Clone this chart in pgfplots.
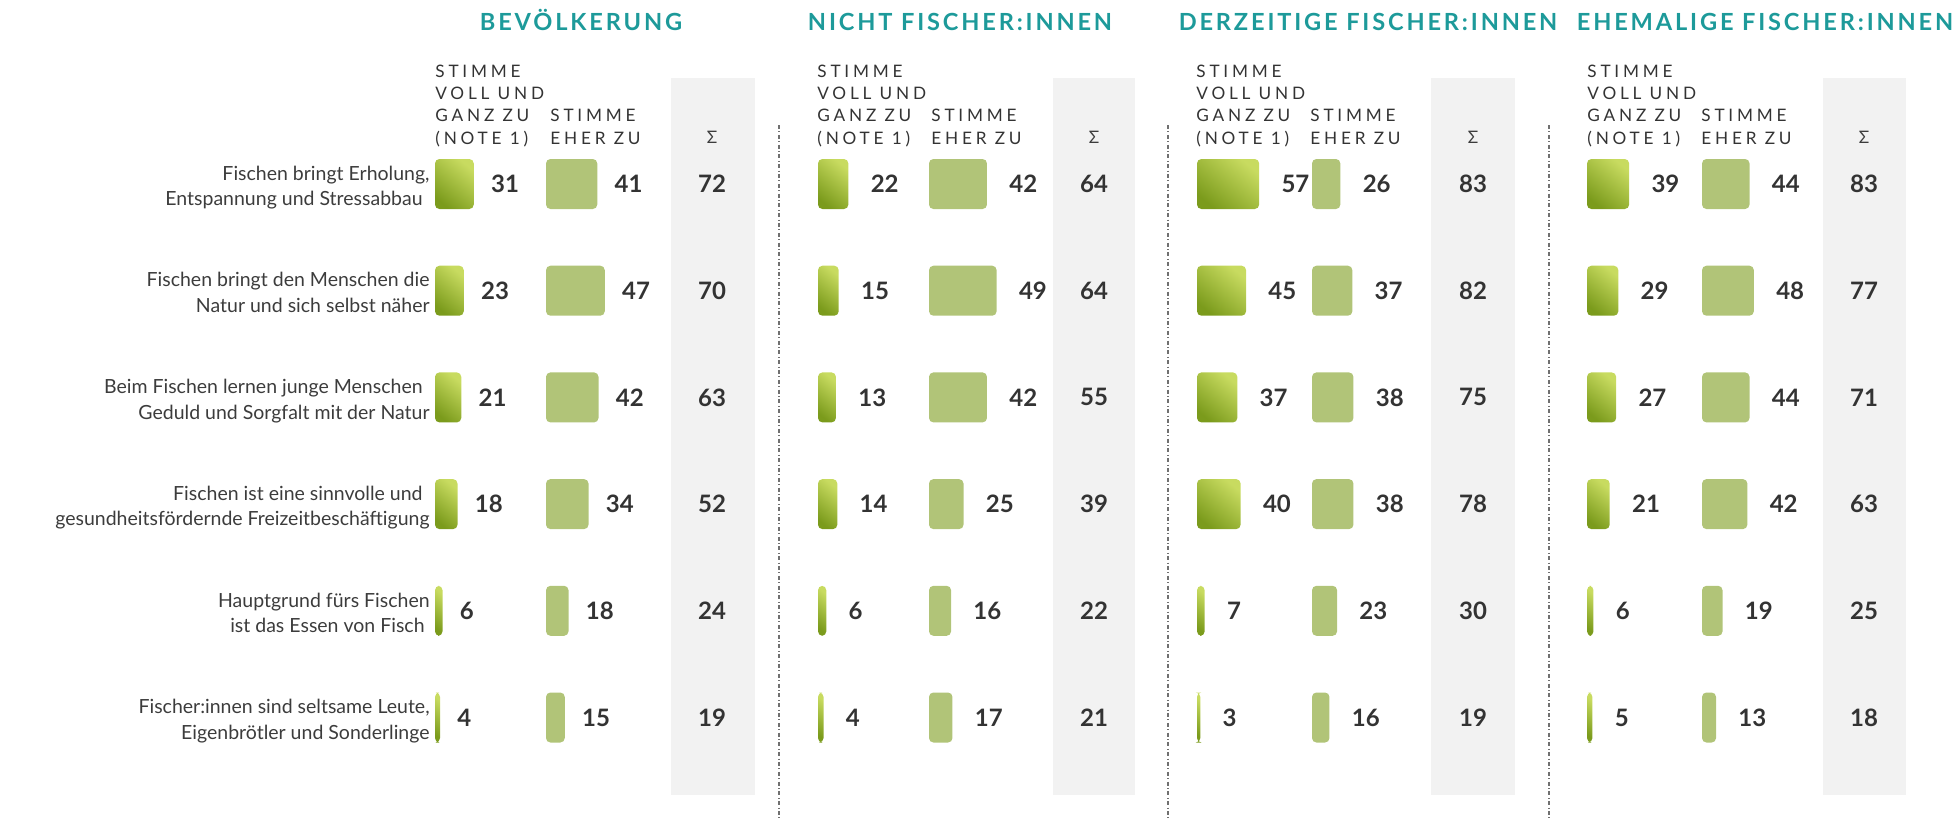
\documentclass[border=0pt]{standalone}
\usepackage{fontspec}
\setmainfont{Lato}
\newfontfamily\spaced[LetterSpace=22]{Lato}
\newfontfamily\ttl[LetterSpace=12]{Lato}
\usepackage{pgfplots}
\usepackage{pgfplotstable}
\pgfplotsset{compat=1.18}
\definecolor{gdark}{HTML}{7B9B1C}
\definecolor{glight}{HTML}{C8DB60}
\definecolor{eher}{HTML}{B1C478}
\definecolor{tealc}{HTML}{1D9A9A}
\definecolor{txt}{HTML}{333333}
\definecolor{lbl}{HTML}{3C3C3C}
\definecolor{sumbg}{HTML}{F2F2F2}
\definecolor{dashc}{HTML}{707070}

\pgfplotstableread{
row voll eher sum
1 31 41 72
2 23 47 70
3 21 42 63
4 18 34 52
5 6 18 24
6 4 15 19
}\tabA
\pgfplotstableread{
row voll eher sum
1 22 42 64
2 15 49 64
3 13 42 55
4 14 25 39
5 6 16 22
6 4 17 21
}\tabB
\pgfplotstableread{
row voll eher sum
1 57 26 83
2 45 37 82
3 37 38 75
4 40 38 78
5 7 23 30
6 3 16 19
}\tabC
\pgfplotstableread{
row voll eher sum
1 39 44 83
2 29 48 77
3 27 44 71
4 21 42 63
5 6 19 25
6 5 13 18
}\tabD

\pgfplotsset{
  colaxis/.style={scale only axis, hide axis, clip=false,
    xmin=0, xmax=100, ymin=0.5, ymax=6.5, y dir=reverse,
    height=320.1pt, anchor=center, enlargelimits=false,
    /pgf/number format/assume math mode=true},
  barplot/.style={xbar, bar width=25pt, draw=none, rounded corners=2.2pt,
    nodes near coords, nodes near coords align=horizontal,
    every node near coord/.append style={font=\fontsize{12}{14}\selectfont\bfseries, text=txt, inner sep=0pt, xshift=#1}},
}
\newcommand\group[6]{%
  \pgfmathsetmacro\W{50*#2}%
  \pgfmathsetmacro\gx{(#3+50*#2)*0.5}%
  \pgfmathsetmacro\ex{(#4+50*#2)*0.5}%
  \pgfmathsetmacro\sx{(#5-#4)/#2}%
  \pgfmathsetmacro\gp{#6*0.5}%
  \begin{axis}[colaxis, width=\W pt, at={(\gx pt,-225.375pt)}]
    \pgfplotsinvokeforeach{1,...,6}{%
      \addplot[barplot=\gp pt, restrict y to domain=##1:##1, top color=glight, bottom color=gdark, shading angle=-40] table[x=voll,y=row]{#1};
    }
  \end{axis}
  \begin{axis}[colaxis, width=\W pt, at={(\ex pt,-225.375pt)}]
    \addplot[barplot=\gp pt, fill=eher] table[x=eher,y=row]{#1};
    \addplot[draw=none, mark=none, point meta=explicit, nodes near coords,
      nodes near coords style={anchor=center, font=\fontsize{12}{14}\selectfont\bfseries, text=txt, inner sep=0pt}]
      table[x expr=\sx, y=row, meta=sum]{#1};
  \end{axis}
}

\begin{document}
\begin{tikzpicture}
\useasboundingbox (0,0) rectangle (977pt,-409.5pt);
\begin{scope}[x=0.5pt,y=-0.5pt]
  % grey sum columns
  \foreach \a/\b in {671/755,1053/1135,1431/1515,1823/1906}
    \fill[sumbg] (\a,78) rectangle (\b,795);
  % separators
  \foreach \a in {779,1168,1549}
    \draw[dashc, line width=0.6pt, dash pattern=on 2pt off 1.2pt on 0.5pt off 1.2pt] (\a,125) -- (\a,819);
  % titles
  \foreach \c/\t in {581/BEVÖLKERUNG,960/NICHT FISCHER:INNEN,1368/DERZEITIGE FISCHER:INNEN,1765/EHEMALIGE FISCHER:INNEN}
    \node[anchor=base, inner sep=0pt, text=tealc, font=\ttl\bfseries\fontsize{11.8}{14}\selectfont] at (\c,30) {\t};
  % column headers
  \foreach \la/\lb/\sc in {435/550/712,817/931/1094,1196/1310/1473,1587/1701/1864}{
    \begin{scope}[every node/.style={anchor=base west, inner sep=0pt, text=txt, font=\spaced\fontsize{8.6}{10}\selectfont}]
      \node at (\la,77.3) {STIMME};
      \node at (\la,99.3) {VOLL UND};
      \node at (\la,121.7) {GANZ ZU};
      \node at (\la,144) {(NOTE 1)};
      \node at (\lb,121.7) {STIMME};
      \node at (\lb,144) {EHER ZU};
      \node[anchor=base, text=lbl] at (\sc,143) {Σ};
    \end{scope}
  }
  % row labels
  \begin{scope}[every node/.style={anchor=base east, inner sep=0pt, text=lbl, font=\fontsize{9.75}{12}\selectfont}]
    \node at (430,180.25) {Fischen bringt Erholung,};
    \node at (423,205.75) {Entspannung und Stressabbau};
    \node at (430,286.95) {Fischen bringt den Menschen die};
    \node at (430,312.45) {Natur und sich selbst näher};
    \node at (423,393.65) {Beim Fischen lernen junge Menschen};
    \node at (430,419.15) {Geduld und Sorgfalt mit der Natur};
    \node at (423,500.35) {Fischen ist eine sinnvolle und};
    \node at (430,525.85) {gesundheitsfördernde Freizeitbeschäftigung};
    \node at (430,607.05) {Hauptgrund fürs Fischen};
    \node at (425,632.55) {ist das Essen von Fisch};
    \node at (430,713.75) {Fischer:innen sind seltsame Leute,};
    \node at (430,739.25) {Eigenbrötler und Sonderlinge};
  \end{scope}
\end{scope}
\group{\tabA}{1.25}{435}{546}{712}{17}
\group{\tabB}{1.38}{818}{929}{1094}{22}
\group{\tabC}{1.09}{1197}{1312}{1473}{22}
\group{\tabD}{1.08}{1587}{1702}{1864}{22}
\end{tikzpicture}
\end{document}
